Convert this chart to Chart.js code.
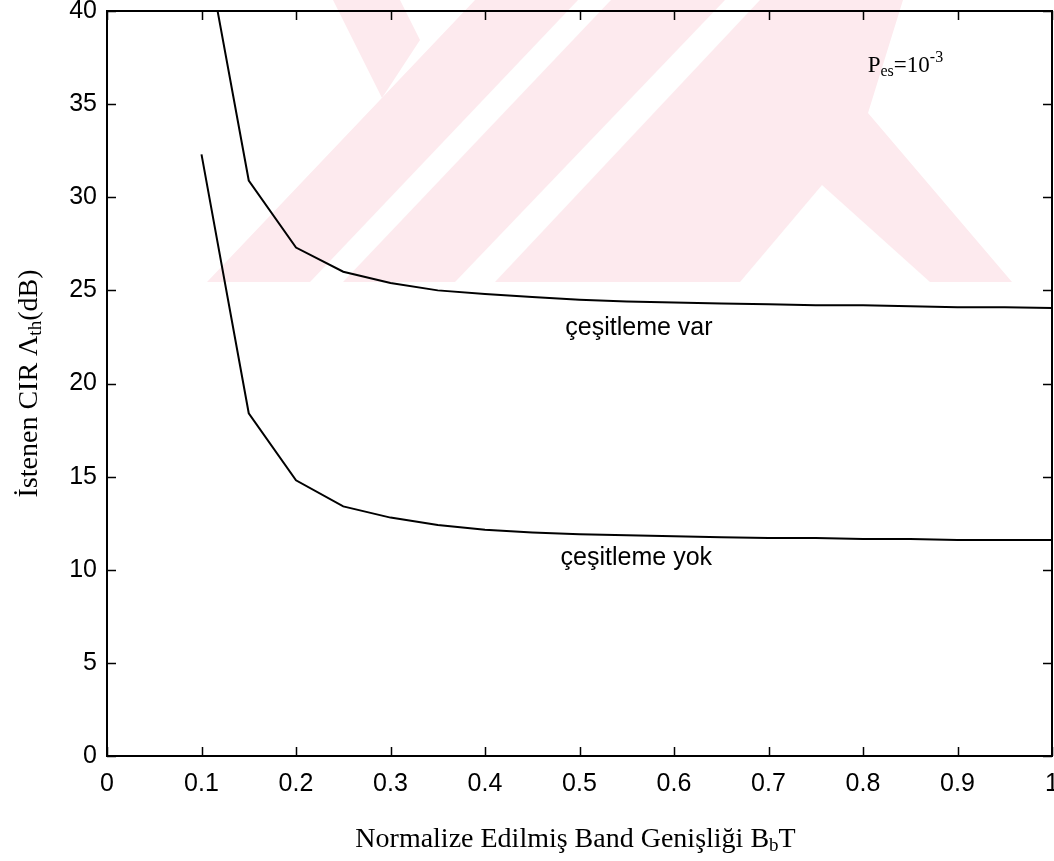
<!DOCTYPE html>
<html>
<head>
<meta charset="utf-8">
<script src="https://cdn.jsdelivr.net/npm/chart.js@4.4.1/dist/chart.umd.min.js"></script>
<style>
  html, body { margin: 0; padding: 0; background: #fff; }
  #wrap { width: 1054px; height: 861px; }
</style>
</head>
<body>
<div id="wrap"><canvas id="c"></canvas></div>
<script>
// normalized bandwidth BbT
const bandwidth = [0.1, 0.15, 0.2, 0.25, 0.3, 0.35, 0.4, 0.45, 0.5, 0.55, 0.6, 0.65, 0.7, 0.75, 0.8, 0.85, 0.9, 0.95, 1.0];
// required CIR (dB), with diversity
const withDiversity = [44.7, 30.9, 27.3, 26.0, 25.4, 25.0, 24.8, 24.65, 24.5, 24.4, 24.35, 24.3, 24.25, 24.2, 24.2, 24.15, 24.1, 24.1, 24.05];
// required CIR (dB), no diversity
const noDiversity = [32.3, 18.4, 14.8, 13.4, 12.8, 12.4, 12.15, 12.0, 11.9, 11.85, 11.8, 11.75, 11.7, 11.7, 11.65, 11.65, 11.6, 11.6, 11.6];

const xTicks = [0, 0.1, 0.2, 0.3, 0.4, 0.5, 0.6, 0.7, 0.8, 0.9, 1];
const yTicks = [0, 5, 10, 15, 20, 25, 30, 35, 40];

const SANS = '"Liberation Sans", Arial, sans-serif';
const SERIF = '"Liberation Serif", "Times New Roman", serif';

// faint scanned watermark behind the plot (rough shapes, canvas px)
const watermarkPlugin = {
  id: "watermark",
  beforeDraw(chart) {
    const ctx = chart.ctx;
    const poly = (pts, col) => {
      ctx.fillStyle = col;
      ctx.beginPath();
      pts.forEach(([x, y], i) => (i ? ctx.lineTo(x, y) : ctx.moveTo(x, y)));
      ctx.closePath();
      ctx.fill();
    };
    ctx.save();
    const pink = "#fdeaee";
    poly([[207, 282], [475, 0], [903, 0], [868, 113], [1012, 282]], pink);
    poly([[333, 0], [400, 0], [420, 40], [382, 98]], pink);
    poly([[310, 282], [343, 282], [611, 0], [578, 0]], "#fff");
    poly([[455, 282], [495, 282], [760, 0], [725, 0]], "#fff");
    poly([[740, 282], [822, 185], [930, 282]], "#fff");
    ctx.restore();
  },
};

// box + inward ticks, matlab style
const framePlugin = {
  id: "frame",
  afterDatasetsDraw(chart) {
    const { ctx, chartArea: a, scales } = chart;
    const len = 9;
    ctx.save();
    ctx.strokeStyle = "#000";
    ctx.lineWidth = 2;
    ctx.strokeRect(a.left, a.top, a.right - a.left, a.bottom - a.top);
    ctx.lineWidth = 1.5;
    ctx.beginPath();
    xTicks.forEach((v) => {
      const px = Math.round(scales.x.getPixelForValue(v)) + 0.5;
      ctx.moveTo(px, a.bottom); ctx.lineTo(px, a.bottom - len);
      ctx.moveTo(px, a.top); ctx.lineTo(px, a.top + len);
    });
    yTicks.forEach((v) => {
      const py = Math.round(scales.y.getPixelForValue(v)) + 0.5;
      ctx.moveTo(a.left, py); ctx.lineTo(a.left + len, py);
      ctx.moveTo(a.right, py); ctx.lineTo(a.right - len, py);
    });
    ctx.stroke();

    // curve labels
    ctx.fillStyle = "#000";
    ctx.font = "25px " + SANS;
    ctx.textBaseline = "middle";
    ctx.fillText("çeşitleme var", scales.x.getPixelForValue(0.485), scales.y.getPixelForValue(23.0));
    ctx.fillText("çeşitleme yok", scales.x.getPixelForValue(0.48), scales.y.getPixelForValue(10.6));

    // P_es = 10^-3
    ctx.textBaseline = "alphabetic";
    let x = scales.x.getPixelForValue(0.805);
    const y = scales.y.getPixelForValue(36.7);
    ctx.font = "23px " + SERIF;
    ctx.fillText("P", x, y); x += ctx.measureText("P").width;
    ctx.font = "16px " + SERIF;
    ctx.fillText("es", x, y + 4); x += ctx.measureText("es").width;
    ctx.font = "23px " + SERIF;
    ctx.fillText("=10", x, y); x += ctx.measureText("=10").width;
    ctx.font = "16px " + SERIF;
    ctx.fillText("-3", x, y - 10);

    // axis titles
    drawSubText(ctx, [["Normalize Edilmiş Band Genişliği B", 0], ["b", 1], ["T", 0]], (a.left + a.right) / 2 - 4, 840, 0);
    drawSubText(ctx, [["İstenen CIR Λ", 0], ["th", 1], ["(dB)", 0]], 30, (a.top + a.bottom) / 2, -Math.PI / 2);
    ctx.restore();
  },
};

function drawSubText(ctx, parts, cx, cy, rot) {
  const big = "28px " + SERIF, small = "19px " + SERIF;
  let w = 0;
  parts.forEach(([t, sub]) => { ctx.font = sub ? small : big; w += ctx.measureText(t).width; });
  ctx.save();
  ctx.translate(cx, cy);
  ctx.rotate(rot);
  ctx.textBaseline = "middle";
  let x = -w / 2;
  parts.forEach(([t, sub]) => {
    ctx.font = sub ? small : big;
    ctx.fillText(t, x, sub ? 6 : 0);
    x += ctx.measureText(t).width;
  });
  ctx.restore();
}

new Chart(document.getElementById("c"), {
  type: "line",
  data: {
    labels: bandwidth,
    datasets: [
      {
        label: "çeşitleme var",
        data: bandwidth.map((b, i) => ({ x: b, y: withDiversity[i] })),
        borderColor: "#000",
        borderWidth: 2,
        pointRadius: 0,
        tension: 0,
        fill: false,
      },
      {
        label: "çeşitleme yok",
        data: bandwidth.map((b, i) => ({ x: b, y: noDiversity[i] })),
        borderColor: "#000",
        borderWidth: 2,
        pointRadius: 0,
        tension: 0,
        fill: false,
      },
    ],
  },
  options: {
    responsive: true,
    maintainAspectRatio: false,
    animation: false,
    layout: { padding: { top: 11, right: 2, left: 0, bottom: 0 } },
    scales: {
      x: {
        type: "linear",
        min: 0,
        max: 1,
        grid: { display: false, drawTicks: false },
        border: { display: false },
        afterBuildTicks: (s) => { s.ticks = xTicks.map((v) => ({ value: v })); },
        ticks: {
          color: "#000",
          padding: 13,
          font: { family: SANS, size: 25 },
          maxRotation: 0,
          autoSkip: false,
          callback: (v) => String(v),
        },
        afterFit: (s) => { s.height = 105; s.paddingLeft = 0; s.paddingRight = 0; },
      },
      y: {
        min: 0,
        max: 40,
        grid: { display: false, drawTicks: false },
        border: { display: false },
        afterBuildTicks: (s) => { s.ticks = yTicks.map((v) => ({ value: v })); },
        ticks: {
          color: "#000",
          padding: 10,
          font: { family: SANS, size: 25 },
          autoSkip: false,
        },
        afterFit: (s) => { s.width = 107; s.paddingTop = 0; s.paddingBottom = 0; },
      },
    },
    plugins: {
      legend: { display: false },
      tooltip: { enabled: false },
    },
  },
  plugins: [watermarkPlugin, framePlugin],
});
</script>
</body>
</html>
